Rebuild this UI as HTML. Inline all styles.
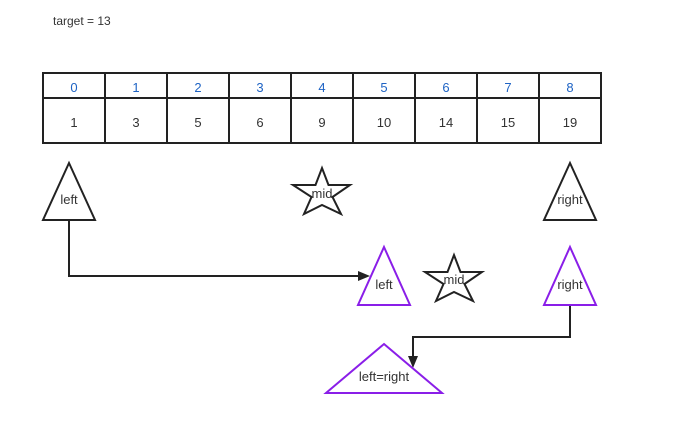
<!DOCTYPE html>
<html><head><style>
body{margin:0;background:#fff;}
svg{display:block;font-family:"Liberation Sans",sans-serif;}
</style></head><body>
<svg width="683" height="425" viewBox="0 0 683 425">
<text x="53" y="25" font-size="12" fill="#333">target = 13</text>
<g stroke="#222" stroke-width="2" fill="none">
<rect x="43" y="73" width="558" height="70"/>
<line x1="43" y1="98" x2="601" y2="98"/>
<line x1="105" y1="73" x2="105" y2="143"/>
<line x1="167" y1="73" x2="167" y2="143"/>
<line x1="229" y1="73" x2="229" y2="143"/>
<line x1="291" y1="73" x2="291" y2="143"/>
<line x1="353" y1="73" x2="353" y2="143"/>
<line x1="415" y1="73" x2="415" y2="143"/>
<line x1="477" y1="73" x2="477" y2="143"/>
<line x1="539" y1="73" x2="539" y2="143"/>
</g>
<g font-size="13" text-anchor="middle" fill="#1e63c4">
<text x="74" y="92">0</text><text x="136" y="92">1</text><text x="198" y="92">2</text><text x="260" y="92">3</text><text x="322" y="92">4</text><text x="384" y="92">5</text><text x="446" y="92">6</text><text x="508" y="92">7</text><text x="570" y="92">8</text>
</g>
<g font-size="13" text-anchor="middle" fill="#333">
<text x="74" y="127">1</text><text x="136" y="127">3</text><text x="198" y="127">5</text><text x="260" y="127">6</text><text x="322" y="127">9</text><text x="384" y="127">10</text><text x="446" y="127">14</text><text x="508" y="127">15</text><text x="570" y="127">19</text>
</g>
<g stroke="#222" stroke-width="2" fill="none">
<polygon points="69,163 95,220 43,220"/>
<polygon points="570,163 596,220 544,220"/>
<polygon points="322,168 328.5,185 350,185 332.5,197 341,214 322,205 304,214 311.5,197 293,185 315.5,185"/>
<polygon points="454,255 460.5,272 482,272 464.5,284 473,301 454,292 436,301 443.5,284 425,272 447.5,272"/>
<polyline points="69,220 69,276 360,276"/>
<polyline points="570,305 570,337 413,337 413,357"/>
</g>
<polygon points="370,276 358,271 358,281" fill="#222"/>
<polygon points="413,368 408,356 418,356" fill="#222"/>
<g stroke="#8a1ee8" stroke-width="2" fill="none">
<polygon points="384,247 410,305 358,305"/>
<polygon points="570,247 596,305 544,305"/>
<polygon points="384,344 442,393 326,393"/>
</g>
<g font-size="13" text-anchor="middle" fill="#333">
<text x="69" y="204">left</text>
<text x="570" y="204">right</text>
<text x="322" y="198">mid</text>
<text x="454" y="284">mid</text>
<text x="384" y="289">left</text>
<text x="570" y="289">right</text>
<text x="384" y="381">left=right</text>
</g>
</svg>
</body></html>
